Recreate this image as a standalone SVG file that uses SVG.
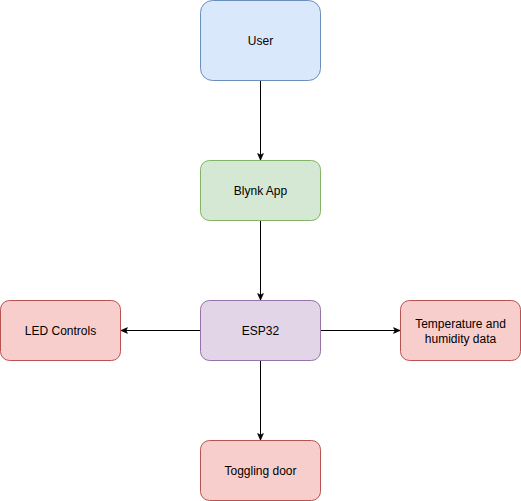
<svg xmlns="http://www.w3.org/2000/svg" width="521" height="501" viewBox="0 0 521 501">
<style>
text{font-family:"Liberation Sans",Arial,Helvetica,sans-serif;font-size:12px;fill:#000;text-anchor:middle;dominant-baseline:central}
.c{stroke:#000;stroke-width:1;fill:none}
.blue{fill:#dae8fc;stroke:#6c8ebf}
.green{fill:#d5e8d4;stroke:#82b366}
.purple{fill:#e1d5e7;stroke:#9673a6}
.red{fill:#f8cecc;stroke:#b85450}
</style>
<defs>
<marker id="a" viewBox="0 0 10 10" refX="9" refY="5" markerWidth="8" markerHeight="8" markerUnits="userSpaceOnUse" orient="auto">
<path d="M1,1.5 L9,5 L1,8.5 L3,5 Z" fill="#000" stroke="#000" stroke-width="1"/>
</marker>
</defs>
<rect width="521" height="501" fill="#fff"/>
<g id="connectors">
<path class="c" d="M260.5,80.5 V160" marker-end="url(#a)"/>
<path class="c" d="M260.5,220.5 V300" marker-end="url(#a)"/>
<path class="c" d="M200.5,330.5 H121" marker-end="url(#a)"/>
<path class="c" d="M320.5,330.5 H400" marker-end="url(#a)"/>
<path class="c" d="M260.5,360.5 V440" marker-end="url(#a)"/>
</g>
<g id="user"><rect class="blue" x="200.5" y="0.5" width="120" height="80" rx="12"/><text x="260.5" y="40.5">User</text></g>
<g id="blynk"><rect class="green" x="200.5" y="160.5" width="120" height="60" rx="9"/><text x="260.5" y="190.5">Blynk App</text></g>
<g id="esp32"><rect class="purple" x="200.5" y="300.5" width="120" height="60" rx="9"/><text x="260.5" y="330.5">ESP32</text></g>
<g id="led"><rect class="red" x="0.5" y="300.5" width="120" height="60" rx="9"/><text x="60.5" y="330.5">LED Controls</text></g>
<g id="temp"><rect class="red" x="400.5" y="300.5" width="120" height="60" rx="9"/><text x="460.5" y="323.5">Temperature and</text><text x="460.5" y="338.5">humidity data</text></g>
<g id="door"><rect class="red" x="200.5" y="440.5" width="120" height="60" rx="9"/><text x="260.5" y="470.5">Toggling door</text></g>
</svg>
